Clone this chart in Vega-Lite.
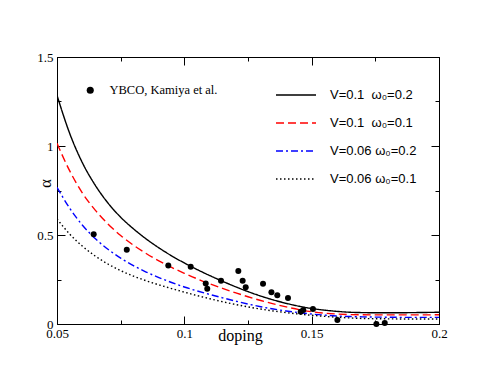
{
 "$schema": "https://vega.github.io/schema/vega-lite/v6.json",
 "width": 382, "height": 267,
 "autosize": {"type": "none"},
 "padding": {"left": 57, "top": 57, "right": 55, "bottom": 58},
 "background": "white",
 "config": {
  "view": {"stroke": "black", "strokeWidth": 1},
  "axis": {"grid": false, "domainColor": "black", "domainWidth": 1, "tickColor": "black", "tickWidth": 1, "labelColor": "black", "titleColor": "black", "labelFont": "Liberation Serif", "labelFontSize": 13, "titleFont": "Liberation Serif", "titleFontWeight": "normal", "labelFlush": false, "labelOverlap": false, "labelBound": false}
 },
 "datasets": {
  "curves": [
   {"doping": 0.05, "alpha": 1.285, "series": "V=0.1\u00a0\u00a0ω₀=0.2"},
   {"doping": 0.055, "alpha": 1.07, "series": "V=0.1\u00a0\u00a0ω₀=0.2"},
   {"doping": 0.06, "alpha": 0.905, "series": "V=0.1\u00a0\u00a0ω₀=0.2"},
   {"doping": 0.065, "alpha": 0.78, "series": "V=0.1\u00a0\u00a0ω₀=0.2"},
   {"doping": 0.07, "alpha": 0.68, "series": "V=0.1\u00a0\u00a0ω₀=0.2"},
   {"doping": 0.075, "alpha": 0.6, "series": "V=0.1\u00a0\u00a0ω₀=0.2"},
   {"doping": 0.08, "alpha": 0.535, "series": "V=0.1\u00a0\u00a0ω₀=0.2"},
   {"doping": 0.085, "alpha": 0.478, "series": "V=0.1\u00a0\u00a0ω₀=0.2"},
   {"doping": 0.09, "alpha": 0.428, "series": "V=0.1\u00a0\u00a0ω₀=0.2"},
   {"doping": 0.095, "alpha": 0.383, "series": "V=0.1\u00a0\u00a0ω₀=0.2"},
   {"doping": 0.1, "alpha": 0.343, "series": "V=0.1\u00a0\u00a0ω₀=0.2"},
   {"doping": 0.105, "alpha": 0.306, "series": "V=0.1\u00a0\u00a0ω₀=0.2"},
   {"doping": 0.11, "alpha": 0.272, "series": "V=0.1\u00a0\u00a0ω₀=0.2"},
   {"doping": 0.115, "alpha": 0.24, "series": "V=0.1\u00a0\u00a0ω₀=0.2"},
   {"doping": 0.12, "alpha": 0.21, "series": "V=0.1\u00a0\u00a0ω₀=0.2"},
   {"doping": 0.125, "alpha": 0.182, "series": "V=0.1\u00a0\u00a0ω₀=0.2"},
   {"doping": 0.13, "alpha": 0.157, "series": "V=0.1\u00a0\u00a0ω₀=0.2"},
   {"doping": 0.135, "alpha": 0.135, "series": "V=0.1\u00a0\u00a0ω₀=0.2"},
   {"doping": 0.14, "alpha": 0.116, "series": "V=0.1\u00a0\u00a0ω₀=0.2"},
   {"doping": 0.145, "alpha": 0.1, "series": "V=0.1\u00a0\u00a0ω₀=0.2"},
   {"doping": 0.15, "alpha": 0.087, "series": "V=0.1\u00a0\u00a0ω₀=0.2"},
   {"doping": 0.155, "alpha": 0.078, "series": "V=0.1\u00a0\u00a0ω₀=0.2"},
   {"doping": 0.16, "alpha": 0.071, "series": "V=0.1\u00a0\u00a0ω₀=0.2"},
   {"doping": 0.165, "alpha": 0.066, "series": "V=0.1\u00a0\u00a0ω₀=0.2"},
   {"doping": 0.17, "alpha": 0.064, "series": "V=0.1\u00a0\u00a0ω₀=0.2"},
   {"doping": 0.18, "alpha": 0.063, "series": "V=0.1\u00a0\u00a0ω₀=0.2"},
   {"doping": 0.19, "alpha": 0.064, "series": "V=0.1\u00a0\u00a0ω₀=0.2"},
   {"doping": 0.2, "alpha": 0.066, "series": "V=0.1\u00a0\u00a0ω₀=0.2"},
   {"doping": 0.05, "alpha": 1.015, "series": "V=0.1\u00a0\u00a0ω₀=0.1"},
   {"doping": 0.055, "alpha": 0.86, "series": "V=0.1\u00a0\u00a0ω₀=0.1"},
   {"doping": 0.06, "alpha": 0.735, "series": "V=0.1\u00a0\u00a0ω₀=0.1"},
   {"doping": 0.065, "alpha": 0.64, "series": "V=0.1\u00a0\u00a0ω₀=0.1"},
   {"doping": 0.07, "alpha": 0.562, "series": "V=0.1\u00a0\u00a0ω₀=0.1"},
   {"doping": 0.075, "alpha": 0.497, "series": "V=0.1\u00a0\u00a0ω₀=0.1"},
   {"doping": 0.08, "alpha": 0.443, "series": "V=0.1\u00a0\u00a0ω₀=0.1"},
   {"doping": 0.085, "alpha": 0.396, "series": "V=0.1\u00a0\u00a0ω₀=0.1"},
   {"doping": 0.09, "alpha": 0.355, "series": "V=0.1\u00a0\u00a0ω₀=0.1"},
   {"doping": 0.095, "alpha": 0.318, "series": "V=0.1\u00a0\u00a0ω₀=0.1"},
   {"doping": 0.1, "alpha": 0.285, "series": "V=0.1\u00a0\u00a0ω₀=0.1"},
   {"doping": 0.105, "alpha": 0.254, "series": "V=0.1\u00a0\u00a0ω₀=0.1"},
   {"doping": 0.11, "alpha": 0.226, "series": "V=0.1\u00a0\u00a0ω₀=0.1"},
   {"doping": 0.115, "alpha": 0.2, "series": "V=0.1\u00a0\u00a0ω₀=0.1"},
   {"doping": 0.12, "alpha": 0.176, "series": "V=0.1\u00a0\u00a0ω₀=0.1"},
   {"doping": 0.125, "alpha": 0.153, "series": "V=0.1\u00a0\u00a0ω₀=0.1"},
   {"doping": 0.13, "alpha": 0.132, "series": "V=0.1\u00a0\u00a0ω₀=0.1"},
   {"doping": 0.135, "alpha": 0.113, "series": "V=0.1\u00a0\u00a0ω₀=0.1"},
   {"doping": 0.14, "alpha": 0.096, "series": "V=0.1\u00a0\u00a0ω₀=0.1"},
   {"doping": 0.145, "alpha": 0.081, "series": "V=0.1\u00a0\u00a0ω₀=0.1"},
   {"doping": 0.15, "alpha": 0.069, "series": "V=0.1\u00a0\u00a0ω₀=0.1"},
   {"doping": 0.155, "alpha": 0.061, "series": "V=0.1\u00a0\u00a0ω₀=0.1"},
   {"doping": 0.16, "alpha": 0.056, "series": "V=0.1\u00a0\u00a0ω₀=0.1"},
   {"doping": 0.165, "alpha": 0.053, "series": "V=0.1\u00a0\u00a0ω₀=0.1"},
   {"doping": 0.17, "alpha": 0.052, "series": "V=0.1\u00a0\u00a0ω₀=0.1"},
   {"doping": 0.18, "alpha": 0.051, "series": "V=0.1\u00a0\u00a0ω₀=0.1"},
   {"doping": 0.19, "alpha": 0.051, "series": "V=0.1\u00a0\u00a0ω₀=0.1"},
   {"doping": 0.2, "alpha": 0.052, "series": "V=0.1\u00a0\u00a0ω₀=0.1"},
   {"doping": 0.05, "alpha": 0.768, "series": "V=0.06 ω₀=0.2"},
   {"doping": 0.055, "alpha": 0.65, "series": "V=0.06 ω₀=0.2"},
   {"doping": 0.06, "alpha": 0.555, "series": "V=0.06 ω₀=0.2"},
   {"doping": 0.065, "alpha": 0.48, "series": "V=0.06 ω₀=0.2"},
   {"doping": 0.07, "alpha": 0.42, "series": "V=0.06 ω₀=0.2"},
   {"doping": 0.075, "alpha": 0.37, "series": "V=0.06 ω₀=0.2"},
   {"doping": 0.08, "alpha": 0.328, "series": "V=0.06 ω₀=0.2"},
   {"doping": 0.085, "alpha": 0.292, "series": "V=0.06 ω₀=0.2"},
   {"doping": 0.09, "alpha": 0.261, "series": "V=0.06 ω₀=0.2"},
   {"doping": 0.095, "alpha": 0.233, "series": "V=0.06 ω₀=0.2"},
   {"doping": 0.1, "alpha": 0.208, "series": "V=0.06 ω₀=0.2"},
   {"doping": 0.105, "alpha": 0.186, "series": "V=0.06 ω₀=0.2"},
   {"doping": 0.11, "alpha": 0.166, "series": "V=0.06 ω₀=0.2"},
   {"doping": 0.115, "alpha": 0.147, "series": "V=0.06 ω₀=0.2"},
   {"doping": 0.12, "alpha": 0.129, "series": "V=0.06 ω₀=0.2"},
   {"doping": 0.125, "alpha": 0.112, "series": "V=0.06 ω₀=0.2"},
   {"doping": 0.13, "alpha": 0.097, "series": "V=0.06 ω₀=0.2"},
   {"doping": 0.135, "alpha": 0.084, "series": "V=0.06 ω₀=0.2"},
   {"doping": 0.14, "alpha": 0.073, "series": "V=0.06 ω₀=0.2"},
   {"doping": 0.145, "alpha": 0.064, "series": "V=0.06 ω₀=0.2"},
   {"doping": 0.15, "alpha": 0.056, "series": "V=0.06 ω₀=0.2"},
   {"doping": 0.155, "alpha": 0.05, "series": "V=0.06 ω₀=0.2"},
   {"doping": 0.16, "alpha": 0.045, "series": "V=0.06 ω₀=0.2"},
   {"doping": 0.165, "alpha": 0.042, "series": "V=0.06 ω₀=0.2"},
   {"doping": 0.17, "alpha": 0.04, "series": "V=0.06 ω₀=0.2"},
   {"doping": 0.18, "alpha": 0.038, "series": "V=0.06 ω₀=0.2"},
   {"doping": 0.19, "alpha": 0.037, "series": "V=0.06 ω₀=0.2"},
   {"doping": 0.2, "alpha": 0.037, "series": "V=0.06 ω₀=0.2"},
   {"doping": 0.05, "alpha": 0.59, "series": "V=0.06 ω₀=0.1"},
   {"doping": 0.055, "alpha": 0.505, "series": "V=0.06 ω₀=0.1"},
   {"doping": 0.06, "alpha": 0.437, "series": "V=0.06 ω₀=0.1"},
   {"doping": 0.065, "alpha": 0.382, "series": "V=0.06 ω₀=0.1"},
   {"doping": 0.07, "alpha": 0.337, "series": "V=0.06 ω₀=0.1"},
   {"doping": 0.075, "alpha": 0.3, "series": "V=0.06 ω₀=0.1"},
   {"doping": 0.08, "alpha": 0.269, "series": "V=0.06 ω₀=0.1"},
   {"doping": 0.085, "alpha": 0.243, "series": "V=0.06 ω₀=0.1"},
   {"doping": 0.09, "alpha": 0.22, "series": "V=0.06 ω₀=0.1"},
   {"doping": 0.095, "alpha": 0.199, "series": "V=0.06 ω₀=0.1"},
   {"doping": 0.1, "alpha": 0.179, "series": "V=0.06 ω₀=0.1"},
   {"doping": 0.105, "alpha": 0.16, "series": "V=0.06 ω₀=0.1"},
   {"doping": 0.11, "alpha": 0.142, "series": "V=0.06 ω₀=0.1"},
   {"doping": 0.115, "alpha": 0.125, "series": "V=0.06 ω₀=0.1"},
   {"doping": 0.12, "alpha": 0.11, "series": "V=0.06 ω₀=0.1"},
   {"doping": 0.125, "alpha": 0.096, "series": "V=0.06 ω₀=0.1"},
   {"doping": 0.13, "alpha": 0.084, "series": "V=0.06 ω₀=0.1"},
   {"doping": 0.135, "alpha": 0.073, "series": "V=0.06 ω₀=0.1"},
   {"doping": 0.14, "alpha": 0.064, "series": "V=0.06 ω₀=0.1"},
   {"doping": 0.145, "alpha": 0.056, "series": "V=0.06 ω₀=0.1"},
   {"doping": 0.15, "alpha": 0.049, "series": "V=0.06 ω₀=0.1"},
   {"doping": 0.155, "alpha": 0.043, "series": "V=0.06 ω₀=0.1"},
   {"doping": 0.16, "alpha": 0.038, "series": "V=0.06 ω₀=0.1"},
   {"doping": 0.165, "alpha": 0.034, "series": "V=0.06 ω₀=0.1"},
   {"doping": 0.17, "alpha": 0.031, "series": "V=0.06 ω₀=0.1"},
   {"doping": 0.18, "alpha": 0.029, "series": "V=0.06 ω₀=0.1"},
   {"doping": 0.19, "alpha": 0.028, "series": "V=0.06 ω₀=0.1"},
   {"doping": 0.2, "alpha": 0.028, "series": "V=0.06 ω₀=0.1"}
  ],
  "ybco": [
   {"doping": 0.0644, "alpha": 0.504, "src": "YBCO, Kamiya et al."},
   {"doping": 0.0774, "alpha": 0.417, "src": "YBCO, Kamiya et al."},
   {"doping": 0.0937, "alpha": 0.328, "src": "YBCO, Kamiya et al."},
   {"doping": 0.1025, "alpha": 0.322, "src": "YBCO, Kamiya et al."},
   {"doping": 0.1084, "alpha": 0.227, "src": "YBCO, Kamiya et al."},
   {"doping": 0.109, "alpha": 0.198, "src": "YBCO, Kamiya et al."},
   {"doping": 0.1144, "alpha": 0.243, "src": "YBCO, Kamiya et al."},
   {"doping": 0.1212, "alpha": 0.298, "src": "YBCO, Kamiya et al."},
   {"doping": 0.1229, "alpha": 0.243, "src": "YBCO, Kamiya et al."},
   {"doping": 0.1241, "alpha": 0.206, "src": "YBCO, Kamiya et al."},
   {"doping": 0.1309, "alpha": 0.226, "src": "YBCO, Kamiya et al."},
   {"doping": 0.1342, "alpha": 0.178, "src": "YBCO, Kamiya et al."},
   {"doping": 0.1365, "alpha": 0.161, "src": "YBCO, Kamiya et al."},
   {"doping": 0.1407, "alpha": 0.146, "src": "YBCO, Kamiya et al."},
   {"doping": 0.1457, "alpha": 0.069, "src": "YBCO, Kamiya et al."},
   {"doping": 0.1467, "alpha": 0.079, "src": "YBCO, Kamiya et al."},
   {"doping": 0.1505, "alpha": 0.084, "src": "YBCO, Kamiya et al."},
   {"doping": 0.1601, "alpha": 0.022, "src": "YBCO, Kamiya et al."},
   {"doping": 0.1754, "alpha": 0.0, "src": "YBCO, Kamiya et al."},
   {"doping": 0.1787, "alpha": 0.006, "src": "YBCO, Kamiya et al."}
  ]
 },
 "layer": [
  {
   "data": {"name": "curves"},
   "mark": {"type": "line", "strokeWidth": 1.4, "clip": true, "interpolate": "monotone"},
   "encoding": {
    "x": {"field": "doping", "type": "quantitative",
     "scale": {"domain": [0.05, 0.2], "nice": false, "zero": false},
     "axis": {"orient": "bottom", "values": [0.05, 0.075, 0.1, 0.125, 0.15, 0.175, 0.2],
      "labelExpr": "round(datum.value*1000) % 50 == 0 ? format(datum.value, '~g') : ''",
      "tickSize": {"condition": {"test": "round(datum.value*1000) % 50 == 0", "value": -8}, "value": -4},
      "labelPadding": 11,
      "title": "doping", "titleFontSize": 16, "titleX": 183, "titleY": 16, "titleBaseline": "alphabetic", "titleAnchor": "start", "titleAlign": "center"}},
    "y": {"field": "alpha", "type": "quantitative",
     "scale": {"domain": [0, 1.5], "nice": false, "zero": false},
     "axis": {"orient": "left", "values": [0, 0.25, 0.5, 0.75, 1, 1.25, 1.5],
      "labelExpr": "round(datum.value*100) % 50 == 0 ? format(datum.value, '~g') : ''",
      "tickSize": {"condition": {"test": "round(datum.value*100) % 50 == 0", "value": -8}, "value": -4},
      "labelPadding": 12,
      "title": "α", "titleFontSize": 17, "titleX": -12, "titleY": 126, "titleAngle": 270, "titleAlign": "center", "titleBaseline": "middle"}},
    "color": {"field": "series", "type": "nominal",
     "scale": {"domain": ["V=0.1\u00a0\u00a0ω₀=0.2", "V=0.1\u00a0\u00a0ω₀=0.1", "V=0.06 ω₀=0.2", "V=0.06 ω₀=0.1"], "range": ["#000000", "#ff0000", "#0000ff", "#000000"]},
     "legend": {"orient": "none", "legendX": 218, "legendY": 17, "title": null, "padding": 0, "symbolType": "stroke", "symbolSize": 1600, "symbolStrokeWidth": 1.4, "labelFont": "Liberation Sans", "labelFontSize": 13, "labelColor": "black", "labelOffset": 13, "rowPadding": -16, "labelLimit": 200}},
    "strokeDash": {"field": "series", "type": "nominal",
     "scale": {"domain": ["V=0.1\u00a0\u00a0ω₀=0.2", "V=0.1\u00a0\u00a0ω₀=0.1", "V=0.06 ω₀=0.2", "V=0.06 ω₀=0.1"], "range": [[1, 0], [8, 4], [7, 3, 2, 3], [1.5, 2.5]]},
     "legend": {"orient": "none", "legendX": 218, "legendY": 17, "title": null, "padding": 0, "symbolType": "stroke", "symbolSize": 1600, "symbolStrokeWidth": 1.4, "labelFont": "Liberation Sans", "labelFontSize": 13, "labelColor": "black", "labelOffset": 13, "rowPadding": -16, "labelLimit": 200}}
   }
  },
  {
   "data": {"name": "ybco"},
   "mark": {"type": "point", "filled": true, "size": 36, "color": "black", "opacity": 1},
   "encoding": {
    "x": {"field": "doping", "type": "quantitative",
     "axis": {"orient": "top", "values": [0.05, 0.075, 0.1, 0.125, 0.15, 0.175, 0.2], "labels": false, "title": null,
      "tickSize": {"condition": {"test": "round(datum.value*1000) % 50 == 0", "value": -8}, "value": -4}}},
    "y": {"field": "alpha", "type": "quantitative",
     "axis": {"orient": "right", "values": [0, 0.25, 0.5, 0.75, 1, 1.25, 1.5], "labels": false, "title": null,
      "tickSize": {"condition": {"test": "round(datum.value*100) % 50 == 0", "value": -8}, "value": -4}}},
    "shape": {"field": "src", "type": "nominal",
     "scale": {"domain": ["YBCO, Kamiya et al."], "range": ["circle"]},
     "legend": {"orient": "none", "legendX": 27, "legendY": 27, "title": null, "padding": 0, "symbolSize": 50, "symbolFillColor": "black", "symbolStrokeColor": "black", "labelFont": "Liberation Serif", "labelFontSize": 12.5, "labelColor": "black", "labelOffset": 13, "labelLimit": 200}}
   }
  }
 ],
 "resolve": {"axis": {"x": "independent", "y": "independent"}}
}
